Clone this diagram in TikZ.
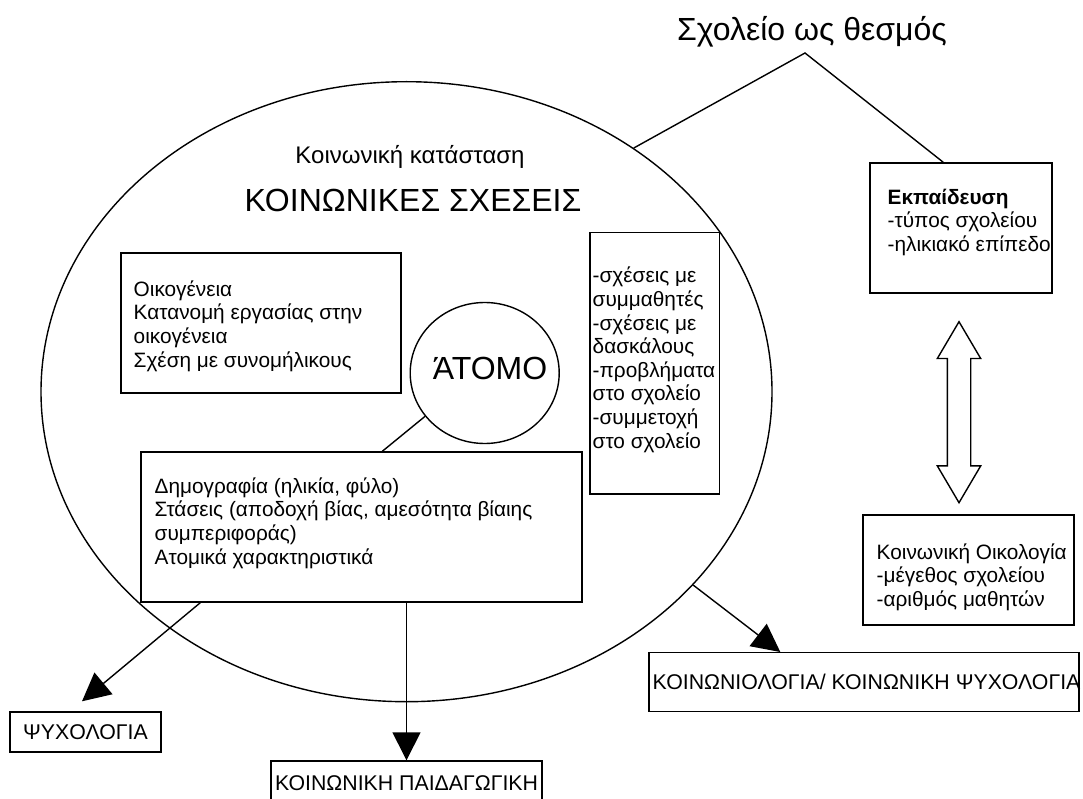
\documentclass[tikz,border=0pt]{standalone}
\usepackage{fontspec}
\setmainfont{Liberation Sans}
\usepackage{tikz}
\usetikzlibrary{arrows.meta,shapes.geometric,shapes.arrows}
\newcommand{\bigtxt}[1]{{\fontsize{32}{36}\selectfont #1}}

\begin{document}
\begin{tikzpicture}[x=1pt,y=-1pt,line width=1.4pt,
    box/.style={draw,rectangle,inner sep=0pt},
    txt/.style={inner sep=0pt,align=left,anchor=north west,font=\fontsize{20.8}{23.6}\selectfont},
    lbl/.style={inner sep=0pt,font=\fontsize{21.3}{24}\selectfont},
    arr/.style={-{Triangle[length=28pt,width=28pt]}}]
    \useasboundingbox (0,0) rectangle (1083,799);

    % big circle and the school
    \node[draw,ellipse,inner sep=0pt,minimum width=731pt,minimum height=620pt] (social) at (406.5,391.7) {};
    \node (title) at (812,32) {\bigtxt{Σχολείο ως θεσμός}};
    \coordinate (apex) at (805,53);
    \node[lbl,font=\fontsize{24}{28}\selectfont] (state) at (410,157) {Κοινωνική κατάσταση};
    \node (rel) at (413,200) {\bigtxt{ΚΟΙΝΩΝΙΚΕΣ ΣΧΕΣΕΙΣ}};

    % boxes
    \node[box,minimum width=280pt,minimum height=140pt] (family) at (261,323) {};
    \node[txt] (familytxt) at (133,280) {Οικογένεια\\Κατανομή εργασίας στην\\οικογένεια\\Σχέση με συνομήλικους};
    \node[draw,ellipse,inner sep=0pt,minimum width=149pt,minimum height=141pt] (atom) at (484.7,373) {};
    \node (atomtxt) at (490,368.5) {\bigtxt{ΆΤΟΜΟ}};
    \node[box,minimum width=441pt,minimum height=150pt] (demo) at (361.5,527) {};
    \node[txt] (demotxt) at (154,477) {Δημογραφία (ηλικία, φύλο)\\Στάσεις (αποδοχή βίας, αμεσότητα βίαιης\\συμπεριφοράς)\\Ατομικά χαρακτηριστικά};
    \node[box,minimum width=129.3pt,minimum height=261.3pt] (peers) at (654.7,363.3) {};
    \node[txt] (peerstxt) at (592,266.5) {-σχέσεις με\\συμμαθητές\\-σχέσεις με\\δασκάλους\\-προβλήματα\\στο σχολείο\\-συμμετοχή\\στο σχολείο};
    \node[box,minimum width=182pt,minimum height=130pt] (edu) at (961,228) {};
    \node[txt] (edutxt) at (887,188) {\textbf{Εκπαίδευση}\\-τύπος σχολείου\\-ηλικιακό επίπεδο};
    \node[box,minimum width=211pt,minimum height=110pt] (eco) at (968.5,570) {};
    \node[txt] (ecotxt) at (876,543) {Κοινωνική Οικολογία\\-μέγεθος σχολείου\\-αριθμός μαθητών};
    \node[draw,double arrow,rotate=90,inner xsep=0pt,inner ysep=11pt,minimum height=181pt,minimum width=42pt,
          double arrow head extend=10pt,double arrow tip angle=61] (both) at (959,412.2) {};

    % disciplines
    \node[box,minimum width=430pt,minimum height=59pt] (soc) at (864,682.2) {};
    \node[lbl,anchor=west] (soctxt) at (652,682) {ΚΟΙΝΩΝΙΟΛΟΓΙΑ/ ΚΟΙΝΩΝΙΚΗ ΨΥΧΟΛΟΓΙΑ};
    \node[box,lbl,minimum width=151pt,minimum height=40pt] (psy) at (85.5,732) {ΨΥΧΟΛΟΓΙΑ};
    \node[box,lbl,minimum width=271pt,minimum height=44pt] (pedag) at (406.5,783) {ΚΟΙΝΩΝΙΚΗ ΠΑΙΔΑΓΩΓΙΚΗ};

    \draw (social.47) -- (apex) -- ([xshift=74pt]edu.north west);
    \draw (atom.216) -- ([xshift=242pt]demo.north west);
    \draw[arr] ([xshift=60pt]demo.south west) -- ([shift={(-3.5pt,10pt)}]psy.north);
    \draw[arr] (pedag.north |- demo.south) -- (pedag.north);
    \draw[arr] (social.-34) -- ([xshift=132pt]soc.north west);

\end{tikzpicture}
\end{document}
